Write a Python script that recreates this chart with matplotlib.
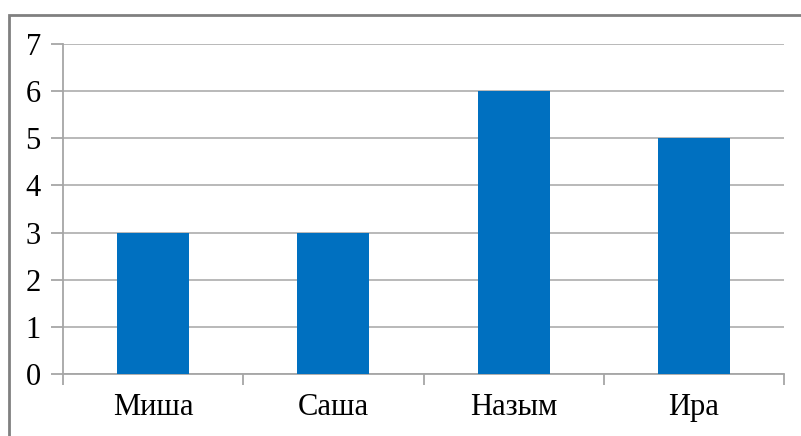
import matplotlib.pyplot as plt
from matplotlib.patches import Rectangle

names = ['Миша', 'Саша', 'Назым', 'Ира']
values = [3, 3, 6, 5]

plt.rcParams['font.family'] = ['Liberation Serif', 'DejaVu Serif']

fig = plt.figure(figsize=(8.01, 4.36), dpi=100)
ax = fig.add_axes([63 / 801, 1 - 374 / 436, (784 - 63) / 801, (374 - 44) / 436])

pos = list(range(len(names)))
ax.bar(pos, values, width=0.4, color='#0070C0', zorder=3)

ax.set_xlim(-0.5, len(names) - 0.5)
ax.set_ylim(0, 7)
ax.set_yticks(range(0, 8))
ax.yaxis.grid(True, color='#b3b3b3', linewidth=1.3, zorder=0)

# category boundaries as x ticks, labels in between
ax.set_xticks([p - 0.5 for p in pos] + [len(names) - 0.5])
ax.set_xticklabels([])
ax.set_xticks(pos, minor=True)
ax.set_xticklabels(names, minor=True)
ax.tick_params(axis='x', which='major', length=8, color='#a6a6a6', width=1.3)
ax.tick_params(axis='x', which='minor', length=0, pad=14, labelsize=22)
ax.tick_params(axis='y', length=9, color='#a6a6a6', width=1.3, pad=7, labelsize=22)

for s in ['top', 'right']:
    ax.spines[s].set_visible(False)
for s in ['left', 'bottom']:
    ax.spines[s].set_color('#a6a6a6')
    ax.spines[s].set_linewidth(1.3)

# chart border (cut at right and bottom edges)
fig.patches.append(Rectangle((9 / 801, -0.1), 1.2, 1 - 15 / 436 + 0.1,
                             transform=fig.transFigure, fill=False,
                             edgecolor='#808080', linewidth=2))

fig.savefig('out.png', dpi=100)
